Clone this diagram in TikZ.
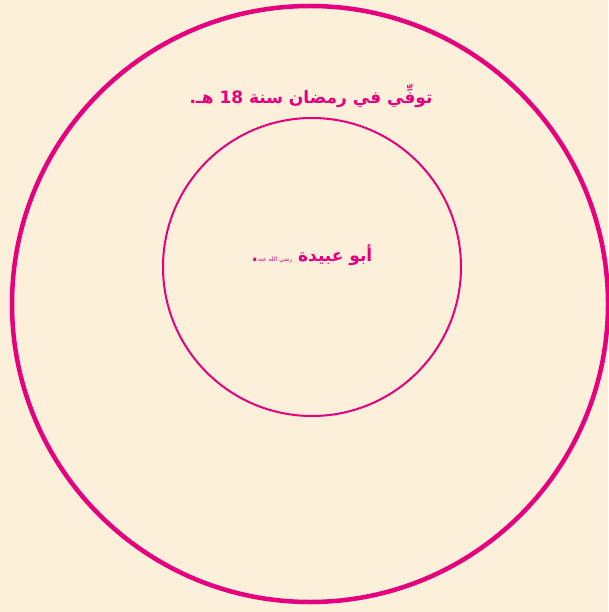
\documentclass[tikz,border=0pt]{standalone}
\usepackage{fontspec}
\newfontfamily\arabicfont[Script=Arabic]{DejaVu Sans}
\TeXXeTstate=1
\definecolor{bg}{HTML}{FCF0DA}
\definecolor{pk}{HTML}{E6007E}
\begin{document}
\begin{tikzpicture}[x=1pt,y=-1pt,
  lbl/.style={text=pk,font=\arabicfont\bfseries\fontsize{17}{20}\selectfont,inner sep=0pt}]
\useasboundingbox (0,0) rectangle (608,612);
\fill[bg] (0,0) rectangle (608,612);
\node[draw=pk,line width=4.5pt,circle,minimum size=596pt,inner sep=0pt] (outer) at (310,304) {};
\node[draw=pk,line width=2pt,circle,minimum size=298pt,inner sep=0pt] (inner) at (312,267) {};
\node[lbl] (t1) at (311,96) {\beginR توفِّي في رمضان سنة \beginL 18\endL{} هـ.\endR};
\node[lbl] (t2) at (312,255) {\beginR أبو عبيدة {\mdseries\fontsize{6}{7}\selectfont رضي الله عنه}.\endR};
\end{tikzpicture}
\end{document}
